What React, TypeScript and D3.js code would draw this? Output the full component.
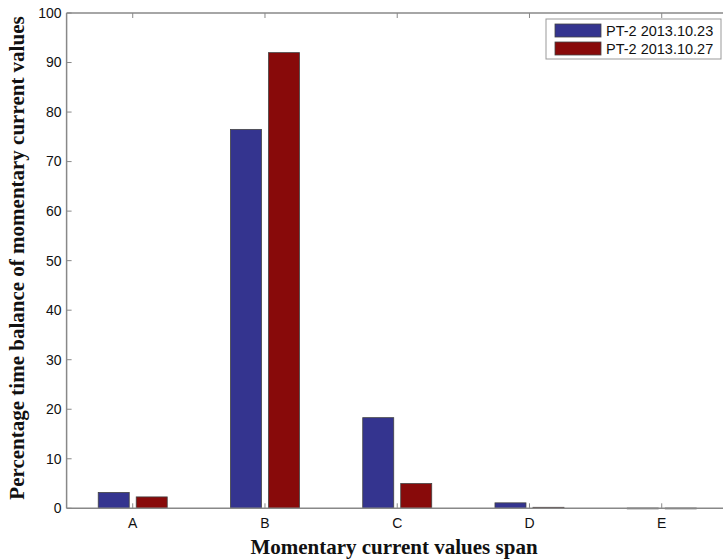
import React from "react";
import * as d3 from "d3";

const categories = ["A", "B", "C", "D", "E"];
const seriesNames = ["PT-2 2013.10.23", "PT-2 2013.10.27"];
const series1 = [3.2, 76.5, 18.3, 1.1, 0.05];
const series2 = [2.3, 92.0, 5.0, 0.2, 0.05];
const yTicks = [0, 10, 20, 30, 40, 50, 60, 70, 80, 90, 100];
const colors = ["#34348f", "#880a0a"];

export default function App() {
  const W = 723, H = 559;
  const left = 66.6, top = 13, bottom = 508.3;
  const step = 132.25;
  const x = d3.scaleLinear().domain([0.5, 5.5]).range([left, left + 5 * step]);
  const y = d3.scaleLinear().domain([0, 100]).range([bottom, top]);
  const barW = 31;
  const offs = [-19, 19];
  const data = [series1, series2];
  const axisColor = "#888";
  const tickFont = "Liberation Sans, Arial, sans-serif";
  const serif = "Liberation Serif, Times New Roman, serif";
  return (
    <svg width={W} height={H} style={{ position: "absolute", left: 0, top: 0, background: "#fff" }}>
      <rect x={0} y={0} width={W} height={H} fill="#fff" />
      {data.map((s, si) =>
        s.map((v, i) => {
          const cx = x(i + 1) + offs[si];
          return (
            <rect
              key={`${si}-${i}`}
              x={cx - barW / 2}
              y={y(v)}
              width={barW}
              height={Math.max(y(0) - y(v), 0.8)}
              fill={colors[si]}
              stroke="#444"
              strokeWidth={0.8}
            />
          );
        })
      )}
      {/* axes frame */}
      <line x1={left} x2={W + 10} y1={bottom} y2={bottom} stroke={axisColor} strokeWidth={1.5} />
      <line x1={left} x2={W + 10} y1={top} y2={top} stroke={axisColor} strokeWidth={1.5} />
      <line x1={left} x2={left} y1={top} y2={bottom} stroke={axisColor} strokeWidth={1.5} />
      {yTicks.map((t) => (
        <g key={t}>
          <line x1={left} x2={left + 5} y1={y(t)} y2={y(t)} stroke={axisColor} strokeWidth={1} />
          <text x={left - 5} y={y(t)} dy="0.35em" textAnchor="end" fontFamily={tickFont} fontSize={14} fill="#111">
            {t}
          </text>
        </g>
      ))}
      {categories.map((c, i) => (
        <g key={c}>
          <line x1={x(i + 1)} x2={x(i + 1)} y1={bottom} y2={bottom - 5} stroke={axisColor} strokeWidth={1} />
          <line x1={x(i + 1)} x2={x(i + 1)} y1={top} y2={top + 5} stroke={axisColor} strokeWidth={1} />
          <text x={x(i + 1)} y={bottom + 20} textAnchor="middle" fontFamily={tickFont} fontSize={14} fill="#111">
            {c}
          </text>
        </g>
      ))}
      <text
        x={394}
        y={554}
        textAnchor="middle"
        fontFamily={serif}
        fontWeight="bold"
        fontSize={21}
        fill="#111"
      >
        Momentary current values span
      </text>
      <text
        transform={`translate(24,258) rotate(-90)`}
        textAnchor="middle"
        fontFamily={serif}
        fontWeight="bold"
        fontSize={21}
        fill="#111"
      >
        Percentage time balance of momentary current values
      </text>
      {/* legend */}
      <rect x={546} y={19} width={175} height={40} fill="#fff" stroke="#999" strokeWidth={1} />
      {seriesNames.map((n, i) => (
        <g key={n}>
          <rect x={555} y={24 + i * 18} width={46} height={13} fill={colors[i]} stroke="#444" strokeWidth={0.8} />
          <text x={606} y={31 + i * 18} dy="0.35em" fontFamily={tickFont} fontSize={14.5} fill="#111">
            {n}
          </text>
        </g>
      ))}
    </svg>
  );
}
